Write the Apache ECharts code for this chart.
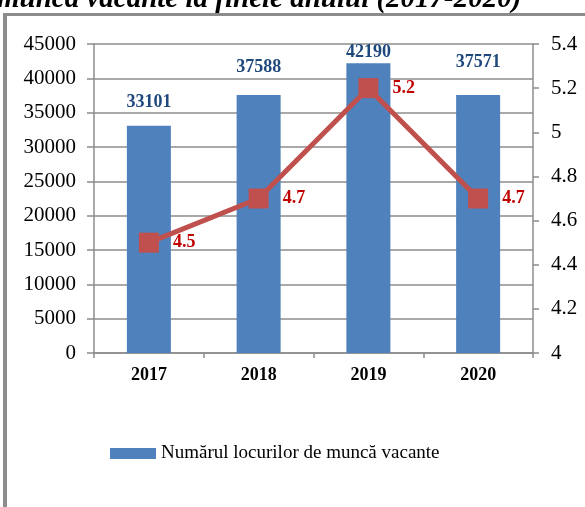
<!DOCTYPE html>
<html>
<head>
<meta charset="utf-8">
<script src="https://cdn.jsdelivr.net/npm/echarts@6/dist/echarts.min.js"></script>
<style>
html, body { margin: 0; padding: 0; background: #fff; }
#chart { width: 585px; height: 507px; }
</style>
</head>
<body>
<div id="chart"></div>
<script>
var years = ['2017', '2018', '2019', '2020'];
var vacante = [33101, 37588, 42190, 37571];
var rata = [4.5, 4.7, 5.2, 4.7];
var titlu = 'muncă vacante la finele anului (2017-2020)';
var numeSerie = 'Numărul locurilor de muncă vacante';

// label lift above each bar (px), labels were placed by hand in the original
var liftBar = [14, 19, 2, 24];

var serif = 'Liberation Serif';
var gri = '#8c8c8c';

var myChart = echarts.init(document.getElementById('chart'));

myChart.setOption({
    animation: false,
    textStyle: { fontFamily: serif },
    graphic: [
        { type: 'rect', shape: { x: 3, y: 13, width: 4, height: 494 }, style: { fill: gri } },
        { type: 'rect', shape: { x: 3, y: 13, width: 582, height: 3 }, style: { fill: gri } },
        {
            type: 'text', left: -3, top: -15,
            style: { text: titlu, font: 'italic bold 29px "Liberation Serif"', fill: '#000' }
        }
    ],
    legend: {
        data: [{ name: numeSerie, icon: 'rect' }],
        left: 105,
        top: 439,
        itemWidth: 46,
        itemHeight: 11,
        itemGap: 4,
        textStyle: { fontFamily: serif, fontSize: 19, color: '#000' }
    },
    grid: { left: 94, right: 52, top: 44, bottom: 154 },
    xAxis: {
        type: 'category',
        data: years,
        axisLine: { lineStyle: { color: gri, width: 1.5 } },
        axisTick: { show: true, length: 5, lineStyle: { color: gri, width: 1.5 } },
        axisLabel: { fontFamily: serif, fontSize: 18, fontWeight: 'bold', color: '#000', margin: 13 }
    },
    yAxis: [
        {
            type: 'value', min: 0, max: 45000, interval: 5000,
            axisLine: { show: true, lineStyle: { color: gri, width: 1.5 } },
            axisTick: { show: true, length: 7, lineStyle: { color: gri, width: 1.5 } },
            splitLine: { lineStyle: { color: gri, width: 1.5 } },
            axisLabel: {
                fontFamily: serif, fontSize: 21, color: '#000', margin: 18,
                formatter: function (v) { return String(v); }
            }
        },
        {
            type: 'value', min: 4, max: 5.4, interval: 0.2,
            axisLine: { show: true, lineStyle: { color: gri, width: 1.5 } },
            axisTick: { show: true, length: 6, lineStyle: { color: gri, width: 1.5 } },
            splitLine: { show: false },
            axisLabel: {
                fontFamily: serif, fontSize: 21, color: '#000', margin: 18,
                formatter: function (v) { return String(Math.round(v * 10) / 10); }
            }
        }
    ],
    series: [
        {
            name: numeSerie,
            type: 'bar',
            barWidth: 44,
            itemStyle: { color: '#4f81bd' },
            data: vacante.map(function (v, i) {
                return {
                    value: v,
                    label: { distance: liftBar[i] }
                };
            }),
            label: {
                show: true, position: 'top',
                fontFamily: serif, fontSize: 18, fontWeight: 'bold', color: '#1f497d'
            }
        },
        {
            name: 'rata',
            type: 'line',
            yAxisIndex: 1,
            data: rata,
            symbol: 'rect',
            symbolSize: 20,
            lineStyle: { color: '#c0504d', width: 5 },
            itemStyle: { color: '#c0504d' },
            label: {
                show: true, position: 'right', distance: 14,
                fontFamily: serif, fontSize: 18, fontWeight: 'bold', color: '#c00000',
                formatter: function (p) { return p.value.toFixed(1); }
            }
        }
    ]
});
</script>
</body>
</html>
